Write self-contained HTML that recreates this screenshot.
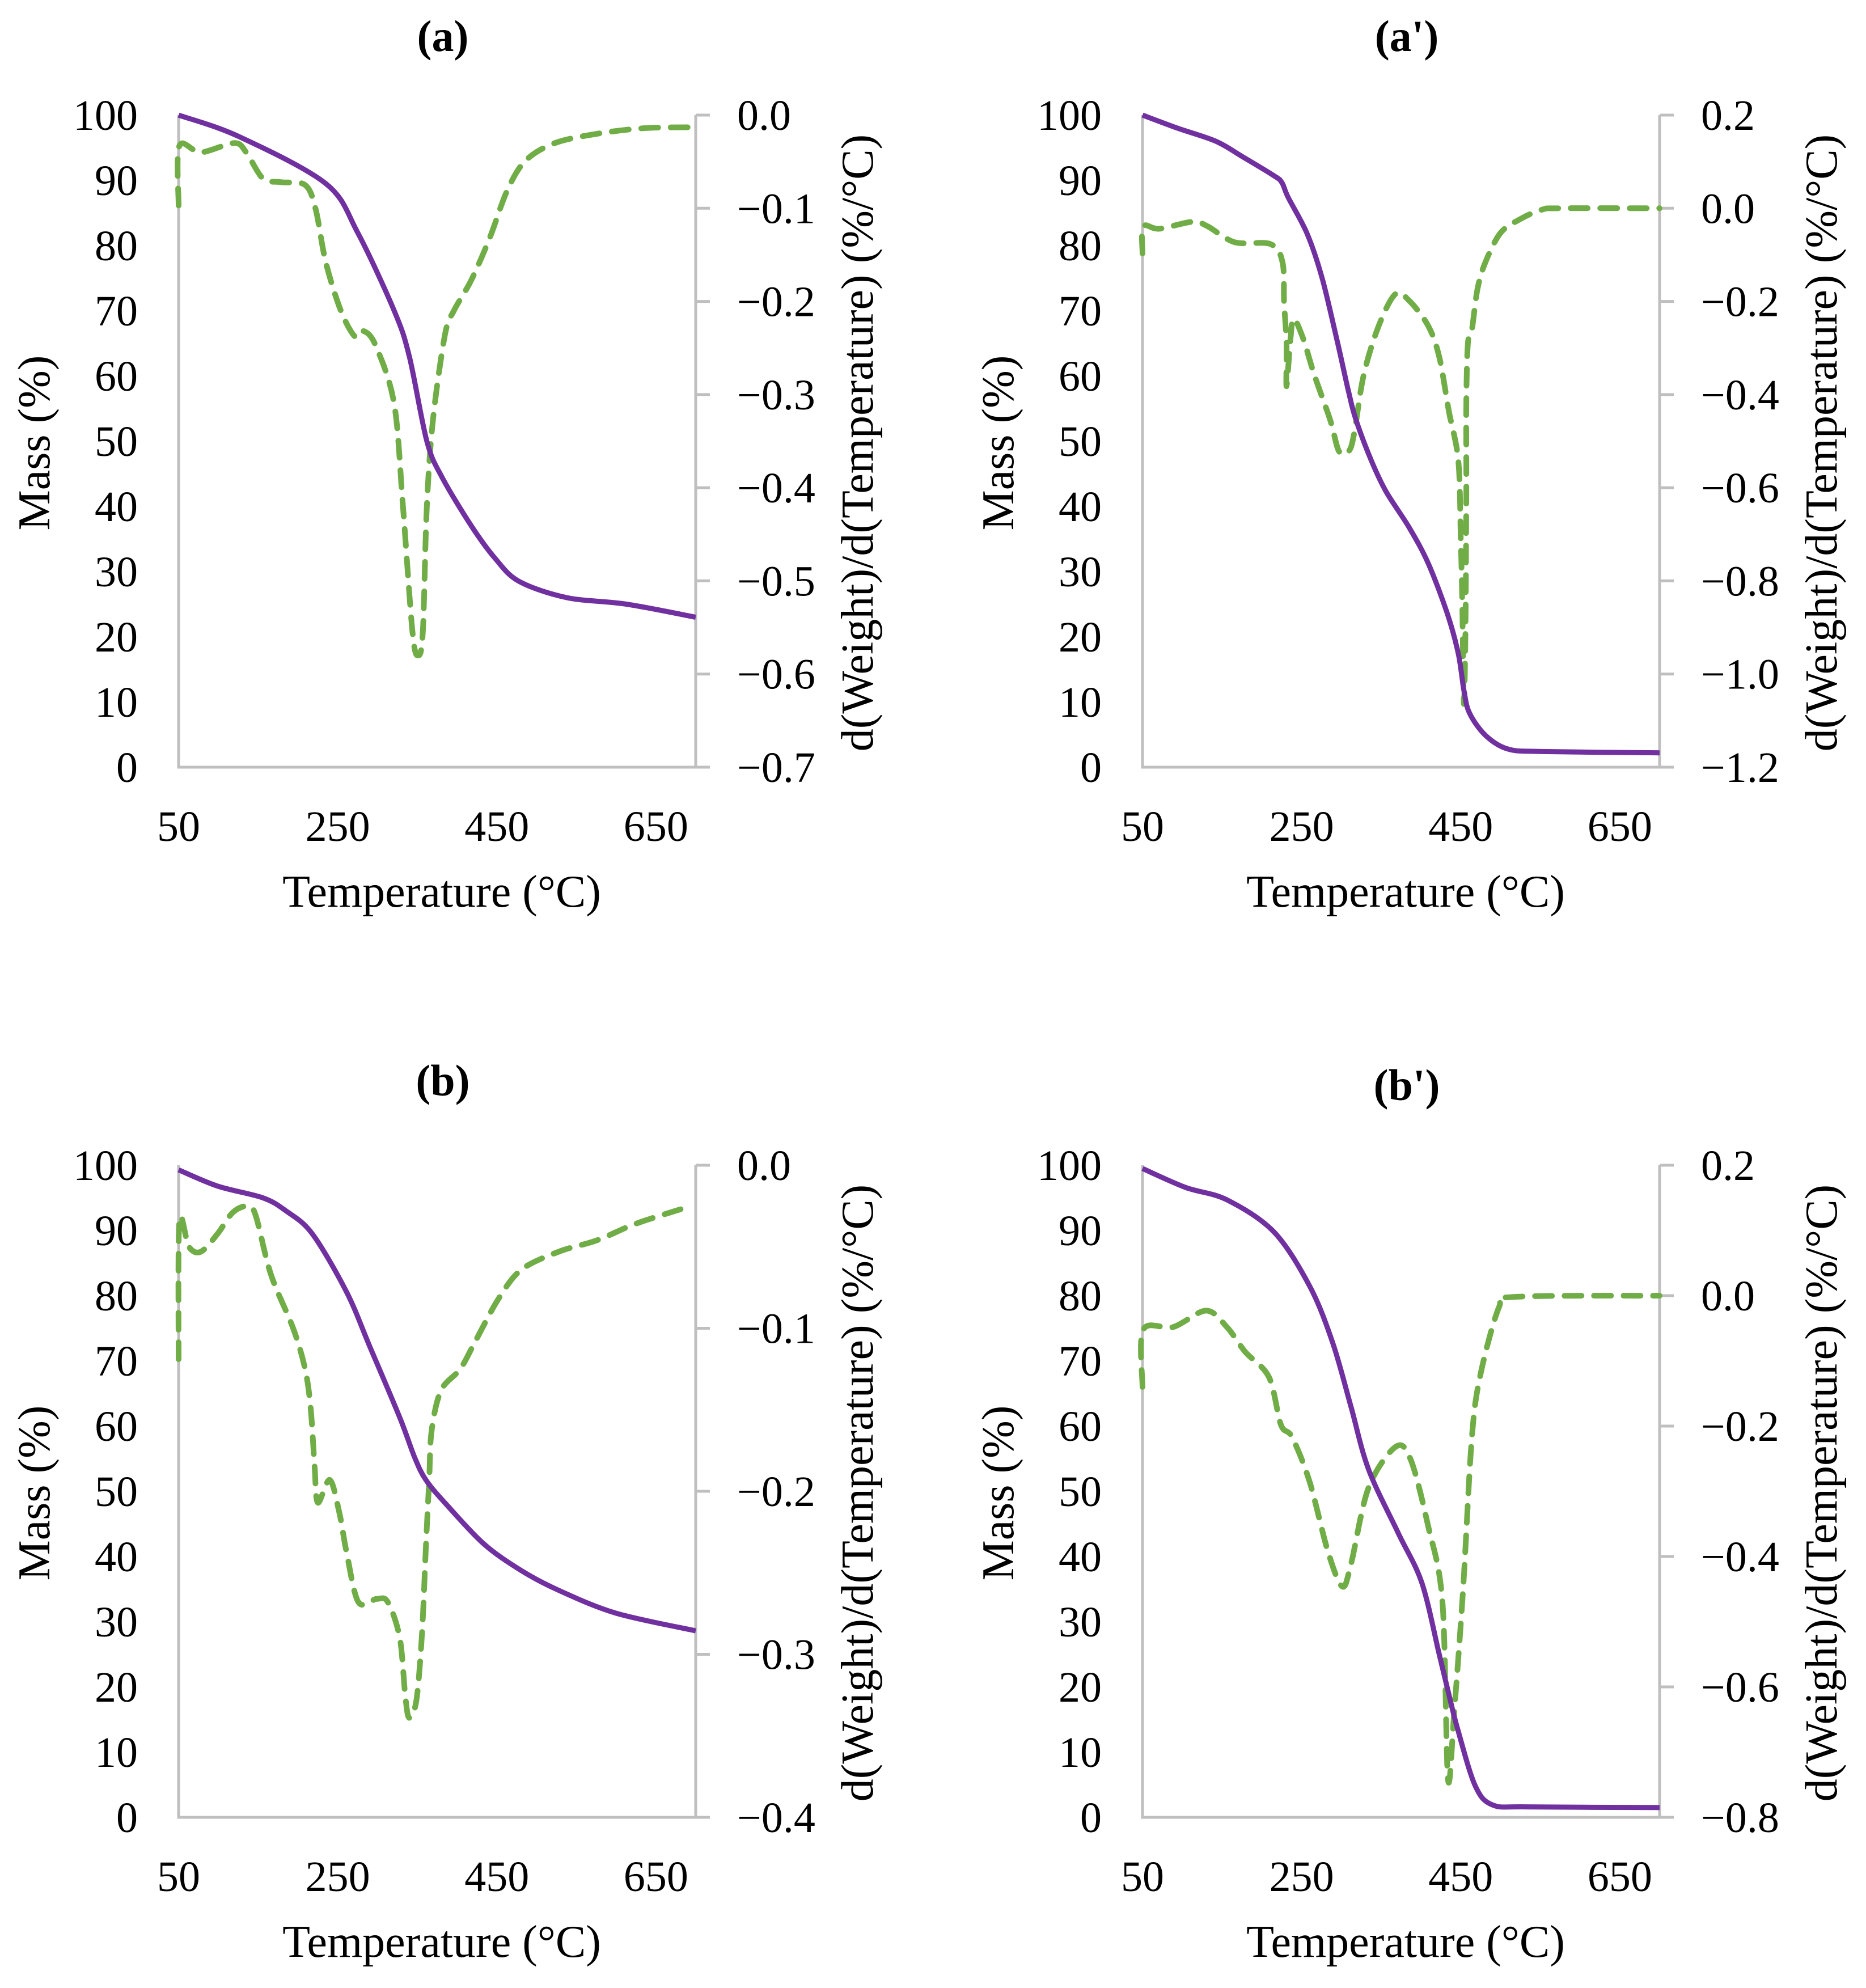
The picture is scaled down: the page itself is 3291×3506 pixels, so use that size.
<!DOCTYPE html>
<html><head><meta charset="utf-8">
<style>
html,body{margin:0;padding:0;background:#fff;}
svg{display:block;}
text{font-family:"Liberation Serif",serif;fill:#000;}
</style></head>
<body>
<svg id="fig" width="3291" height="3506" viewBox="0 0 3291 3506" xmlns="http://www.w3.org/2000/svg"></svg>
<script>
// ---- Panel (a) ----
const aTempMass = [50,126,235,275,321,340,362,381,418,448,478,538,613,700];
const aMass     = [100,96.7,89.5,82,70,63,50,44.5,37,32,28.5,26,25,23];
const aTempDtg  = [50,51,78,120,135,156,179,209,222,235,254,272,283,298,321,332,344,351,357,362,370,385,396,418,441,463,486,523,576,636,700];
const aDtg      = [-0.097,-0.033,-0.04,-0.03,-0.04,-0.068,-0.072,-0.075,-0.1,-0.158,-0.21,-0.238,-0.232,-0.248,-0.31,-0.42,-0.555,-0.58,-0.555,-0.42,-0.325,-0.235,-0.21,-0.177,-0.132,-0.081,-0.049,-0.03,-0.02,-0.014,-0.013];
const aDtgTicks = [0,-0.1,-0.2,-0.3,-0.4,-0.5,-0.6,-0.7];
const aDtgLabels = ["0.0","\u22120.1","\u22120.2","\u22120.3","\u22120.4","\u22120.5","\u22120.6","\u22120.7"];

// ---- Panel (a') ----
const apTempMass = [50,94,142,176,214,225,233,257,276,295,309,318,337,356,385,409,433,447,454,461,481,509,552,700];
const apMass     = [100,98,96,93.6,90.8,89.7,87.4,81.8,74.9,65.2,57.6,53.4,47.2,42.3,36.8,31.3,23.6,17.4,11.8,8.3,4.9,2.8,2.4,2.2];
const apTempDtg  = [50,51,71,113,132,166,211,226,228,231,231,236,240,252,266,286,297,309,316,328,347,368,385,409,423,435,447,450,452,454,456,457,457,459,464,471,481,500,524,552,576,700];
const apDtg      = [-0.097,-0.039,-0.044,-0.029,-0.039,-0.073,-0.077,-0.116,-0.203,-0.29,-0.382,-0.28,-0.237,-0.28,-0.358,-0.455,-0.522,-0.522,-0.484,-0.358,-0.252,-0.184,-0.198,-0.252,-0.319,-0.435,-0.542,-0.706,-0.851,-1.064,-0.9,-0.61,-0.416,-0.29,-0.261,-0.174,-0.116,-0.053,-0.024,-0.003,0,0];
const apDtgTicks = [0.2,0,-0.2,-0.4,-0.6,-0.8,-1.0,-1.2];
const apDtgLabels = ["0.2","0.0","\u22120.2","\u22120.4","\u22120.6","\u22120.8","\u22121.0","\u22121.2"];

// ---- Panel (b) ----
const bTempMass = [50,99,156,185,218,261,290,328,347,361,385,433,480,528,600,700];
const bMass     = [99.3,96.8,95,93,89.5,80.6,72.3,61.3,55.1,51.7,48.2,42,37.9,34.8,31.3,28.6];
const bTempDtg  = [50,51,63,78,99,118,137,147,166,194,209,216,221,225,240,252,261,276,299,313,328,335,340,349,356,361,365,368,380,404,423,452,481,528,576,624,681];
const bDtg      = [-0.119,-0.034,-0.05,-0.053,-0.042,-0.029,-0.025,-0.031,-0.067,-0.1,-0.125,-0.149,-0.185,-0.207,-0.193,-0.213,-0.237,-0.268,-0.266,-0.268,-0.29,-0.326,-0.339,-0.328,-0.287,-0.232,-0.193,-0.163,-0.138,-0.125,-0.108,-0.082,-0.064,-0.053,-0.046,-0.036,-0.027];
const bDtgTicks = [0,-0.1,-0.2,-0.3,-0.4];
const bDtgLabels = ["0.0","\u22120.1","\u22120.2","\u22120.3","\u22120.4"];

// ---- Panel (b') ----
const bpTempMass = [50,104,156,215,260,289,312,334,371,401,423,434,446,468,490,535,700];
const bpMass     = [99.5,96.6,94.7,89.8,81.5,72.8,63,53.4,43.7,36,25,19.4,13.6,4.9,1.9,1.6,1.5];
const bpTempDtg  = [50,51,89,130,156,179,209,224,238,260,283,301,312,334,368,387,409,427,434,442,453,464,475,498,516,700];
const bpDtg      = [-0.14,-0.052,-0.048,-0.023,-0.048,-0.086,-0.125,-0.198,-0.217,-0.285,-0.392,-0.446,-0.412,-0.295,-0.232,-0.251,-0.353,-0.47,-0.742,-0.635,-0.45,-0.217,-0.12,-0.018,-0.002,0];
const bpDtgTicks = [0.2,0,-0.2,-0.4,-0.6,-0.8];
const bpDtgLabels = ["0.2","0.0","\u22120.2","\u22120.4","\u22120.6","\u22120.8"];

const massTicks = [0,10,20,30,40,50,60,70,80,90,100];
const tempTicks = [50,250,450,650];

const NS = "http://www.w3.org/2000/svg";
const svg = document.getElementById("fig");
function mk(tag, attrs, parent){
  const e = document.createElementNS(NS, tag);
  for (const k in attrs) e.setAttribute(k, attrs[k]);
  (parent||svg).appendChild(e);
  return e;
}
function smoothPath(pts){
  let d = `M${pts[0][0].toFixed(1)},${pts[0][1].toFixed(1)}`;
  const k = 0.16;
  for (let i=0;i<pts.length-1;i++){
    const p0 = pts[Math.max(0,i-1)], p1 = pts[i], p2 = pts[i+1], p3 = pts[Math.min(pts.length-1,i+2)];
    const c1x = p1[0]+(p2[0]-p0[0])*k, c1y = p1[1]+(p2[1]-p0[1])*k;
    const c2x = p2[0]-(p3[0]-p1[0])*k, c2y = p2[1]-(p3[1]-p1[1])*k;
    d += ` C${c1x.toFixed(1)},${c1y.toFixed(1)} ${c2x.toFixed(1)},${c2y.toFixed(1)} ${p2[0].toFixed(1)},${p2[1].toFixed(1)}`;
  }
  return d;
}

function drawPanel(p){
  const g = mk("g", {});
  
  
  const L=p.x0, R=p.x1, T=p.y0, B=p.y1;
  const xs = t => L + (t-50)/(700-50)*(R-L);
  const ym = m => B - m/100*(B-T);
  const dMax = p.dTicks[0], dMin = p.dTicks[p.dTicks.length-1];
  const yd = d => T + (dMax-d)/(dMax-dMin)*(B-T);

  const title = mk("text",{x:(L+R)/2+10,y:p.titleY,"font-size":78,"font-weight":"bold","text-anchor":"middle"},g);
  title.textContent = p.title;
  
  

  const axes = mk("path",{d:`M${L},${T} L${L},${B} L${R},${B} M${R},${T} L${R},${B}`,stroke:"#bfbfbf","stroke-width":5,fill:"none"},g);
  
  

  massTicks.forEach(m=>{
    const t = mk("text",{x:L-72,y:ym(m)+26,"font-size":76,"text-anchor":"end"},g);
    t.textContent = m;
    
    
  });
  p.dTicks.forEach((d,i)=>{
    const tk = mk("line",{x1:R,x2:R+25,y1:yd(d),y2:yd(d),stroke:"#bfbfbf","stroke-width":5},g);
    
    
    const t = mk("text",{x:R+73,y:yd(d)+26,"font-size":76},g);
    t.textContent = p.dLabels[i];
    
    
  });
  tempTicks.forEach(v=>{
    const t = mk("text",{x:xs(v),y:B+130,"font-size":76,"text-anchor":"middle"},g);
    t.textContent = v;
    
    
  });
  const xt = mk("text",{x:(L+R)/2+8,y:B+246,"font-size":80,"text-anchor":"middle"},g);
  xt.textContent = "Temperature (°C)";
  
  
  const cy = (T+B)/2 + 3;
  const yl = mk("text",{x:0,y:0,"font-size":80,"text-anchor":"middle",transform:`translate(${L-228},${cy}) rotate(-90)`},g);
  yl.textContent = "Mass (%)";
  
  
  const yr = mk("text",{x:0,y:0,"font-size":80,"text-anchor":"middle",transform:`translate(${R+312},${cy}) rotate(-90)`},g);
  yr.textContent = "d(Weight)/d(Temperature) (%/°C)";
  
  

  const dPts = p.dT.map((t,i)=>[xs(t), yd(p.dV[i])]);
  const dl = mk("path",{d:smoothPath(dPts),fill:"none",stroke:"#70ad47","stroke-width":10,"stroke-dasharray":"30 22","stroke-linejoin":"round","stroke-linecap":"round"},g);
  
  
  const mPts = p.mT.map((t,i)=>[xs(t), ym(p.mV[i])]);
  const ml = mk("path",{d:smoothPath(mPts),fill:"none",stroke:"#7030a0","stroke-width":9,"stroke-linejoin":"round"},g);
  
  
}

drawPanel({name:"panel-a",title:"(a)",titleY:90,x0:315,x1:1227,y0:203,y1:1353,mT:aTempMass,mV:aMass,dT:aTempDtg,dV:aDtg,dTicks:aDtgTicks,dLabels:aDtgLabels});
drawPanel({name:"panel-a-prime",title:"(a')",titleY:90,x0:2015,x1:2927,y0:203,y1:1353,mT:apTempMass,mV:apMass,dT:apTempDtg,dV:apDtg,dTicks:apDtgTicks,dLabels:apDtgLabels});
drawPanel({name:"panel-b",title:"(b)",titleY:1932,x0:315,x1:1227,y0:2055,y1:3205,mT:bTempMass,mV:bMass,dT:bTempDtg,dV:bDtg,dTicks:bDtgTicks,dLabels:bDtgLabels});
drawPanel({name:"panel-b-prime",title:"(b')",titleY:1940,x0:2015,x1:2927,y0:2055,y1:3205,mT:bpTempMass,mV:bpMass,dT:bpTempDtg,dV:bpDtg,dTicks:bpDtgTicks,dLabels:bpDtgLabels});
</script>
</body></html>
